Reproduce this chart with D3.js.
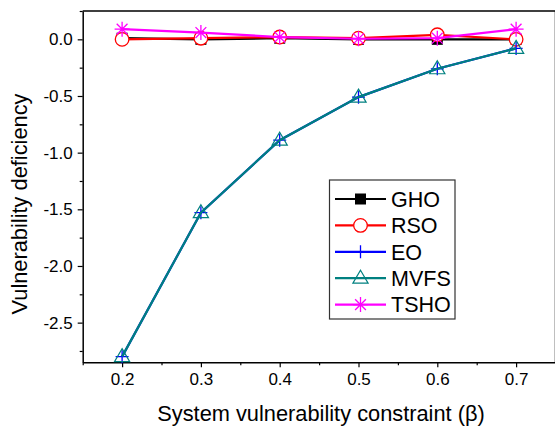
<!DOCTYPE html>
<html>
<head>
<meta charset="utf-8">
<script src="https://cdn.jsdelivr.net/npm/d3@7"></script>
<style>
  html, body { margin: 0; padding: 0; background: #fff; }
  svg { display: block; }
  text { font-family: "Liberation Sans", Arial, sans-serif; }
</style>
</head>
<body>
<script>
// Constraint levels on the x axis
const betas = [0.2, 0.3, 0.4, 0.5, 0.6, 0.7];

// Vulnerability deficiency per method
const gho  = [0.01, 0.00, 0.01, 0.00, 0.00, 0.00];
const rso  = [0.00, 0.01, 0.02, 0.01, 0.04, 0.00];
const eo   = [-2.80, -1.53, -0.89, -0.51, -0.26, -0.08];
const mvfs = [-2.80, -1.53, -0.89, -0.51, -0.26, -0.08];
const tsho = [0.09, 0.06, 0.02, 0.005, 0.01, 0.09];

const seriesNames = ["GHO", "RSO", "EO", "MVFS", "TSHO"];
const seriesValues = [gho, rso, eo, mvfs, tsho];
const seriesColors = ["#000000", "#ff0000", "#0000ff", "#008080", "#ff00ff"];
const seriesSymbols = ["square", "circle", "plus", "triangle", "star"];

const xTickValues = [0.2, 0.3, 0.4, 0.5, 0.6, 0.7];
const yTickValues = [0.0, -0.5, -1.0, -1.5, -2.0, -2.5];

const W = 555, H = 427;
const margin = { left: 82.7, top: 11, right: -0.5, bottom: 64.7 };

const svg = d3.select("body").append("svg").attr("width", W).attr("height", H);

const x = d3.scaleLinear().domain([0.15, 0.75]).range([margin.left, W - margin.right]);
const y = d3.scaleLinear().domain([-2.85, 0.25]).range([H - margin.bottom, margin.top]);

// Frame: top and right edges
svg.append("path")
  .attr("d", `M${x(0.15)},${y(0.25)}H${x(0.75)}V${y(-2.85)}`)
  .attr("fill", "none").attr("stroke", "#000").attr("stroke-width", 1.5);

// X axis with major and minor ticks
const xAxis = svg.append("g").attr("transform", `translate(0,${y(-2.85)})`)
  .call(d3.axisBottom(x).tickValues(xTickValues).tickFormat(d3.format(".1f")).tickSize(5).tickSizeOuter(0));
svg.append("g").attr("transform", `translate(0,${y(-2.85)})`)
  .call(d3.axisBottom(x).tickValues([0.15, 0.25, 0.35, 0.45, 0.55, 0.65, 0.75]).tickFormat("").tickSize(3).tickSizeOuter(0))
  .select(".domain").remove();

// Y axis with major and minor ticks
const yAxis = svg.append("g").attr("transform", `translate(${x(0.15)},0)`)
  .call(d3.axisLeft(y).tickValues(yTickValues).tickFormat(d3.format(".1f")).tickSize(5).tickSizeOuter(0));
svg.append("g").attr("transform", `translate(${x(0.15)},0)`)
  .call(d3.axisLeft(y).tickValues([0.25, -0.25, -0.75, -1.25, -1.75, -2.25, -2.75]).tickFormat("").tickSize(3).tickSizeOuter(0))
  .select(".domain").remove();

[xAxis, yAxis].forEach(g => {
  g.select(".domain").attr("stroke-width", 1.5);
  g.selectAll(".tick text").attr("font-size", 17).attr("fill", "#000")
    .attr("font-family", "'Liberation Sans', Arial, sans-serif");
});
svg.selectAll(".tick line").attr("stroke-width", 1.2);
xAxis.selectAll(".tick text").attr("dy", "0.95em").attr("y", 7);
yAxis.selectAll(".tick text").attr("x", -10).text(d => d === 0 ? "0.0" : d3.format(".1f")(d).replace("−", "-"));

// Axis titles
svg.append("text")
  .attr("x", 321).attr("y", 421)
  .attr("text-anchor", "middle").attr("font-size", 21.8)
  .text("System vulnerability constraint (β)");
svg.append("text")
  .attr("transform", `translate(27,204) rotate(-90)`)
  .attr("text-anchor", "middle").attr("font-size", 21.8)
  .text("Vulnerability deficiency");

// Marker drawing
function drawSymbol(g, type, color, cx, cy) {
  if (type === "square") {
    g.append("rect").attr("x", cx - 5.5).attr("y", cy - 5.5).attr("width", 11).attr("height", 11)
      .attr("fill", color);
  } else if (type === "circle") {
    g.append("circle").attr("cx", cx).attr("cy", cy).attr("r", 6.8)
      .attr("fill", "#fff").attr("stroke", color).attr("stroke-width", 1.3);
  } else if (type === "plus") {
    g.append("path").attr("d", `M${cx - 6.5},${cy}H${cx + 6.5}M${cx},${cy - 6.5}V${cy + 6.5}`)
      .attr("stroke", color).attr("stroke-width", 1.3).attr("fill", "none");
  } else if (type === "triangle") {
    const r = 8;
    g.append("path")
      .attr("d", `M${cx},${cy - r}L${cx + r * 0.95},${cy + r * 0.62}L${cx - r * 0.95},${cy + r * 0.62}Z`)
      .attr("fill", "none").attr("stroke", color).attr("stroke-width", 1.2);
  } else if (type === "star") {
    const r = 7.5;
    let d = `M${cx - r},${cy}H${cx + r}M${cx},${cy - r}V${cy + r}`;
    const k = r * 0.72;
    d += `M${cx - k},${cy - k}L${cx + k},${cy + k}M${cx - k},${cy + k}L${cx + k},${cy - k}`;
    g.append("path").attr("d", d).attr("stroke", color).attr("stroke-width", 1.3).attr("fill", "none");
  }
}

const line = d3.line().x((d, i) => x(betas[i])).y(d => y(d));

seriesValues.forEach((vals, si) => {
  const g = svg.append("g");
  g.append("path").datum(vals).attr("d", line)
    .attr("fill", "none").attr("stroke", seriesColors[si]).attr("stroke-width", 2.2);
  vals.forEach((v, i) => drawSymbol(g, seriesSymbols[si], seriesColors[si], x(betas[i]), y(v)));
});

// Legend
const leg = svg.append("g");
leg.append("rect").attr("x", 329.5).attr("y", 180).attr("width", 125.5).attr("height", 139)
  .attr("fill", "#fff").attr("stroke", "#333").attr("stroke-width", 1.2);
seriesNames.forEach((name, i) => {
  const cy = 199 + i * 26.4;
  leg.append("line").attr("x1", 335).attr("x2", 386).attr("y1", cy).attr("y2", cy)
    .attr("stroke", seriesColors[i]).attr("stroke-width", 2.2);
  drawSymbol(leg, seriesSymbols[i], seriesColors[i], 360.5, cy);
  leg.append("text").attr("x", 391).attr("y", cy + 7.8).attr("font-size", 21.5).text(name);
});
</script>
</body>
</html>
